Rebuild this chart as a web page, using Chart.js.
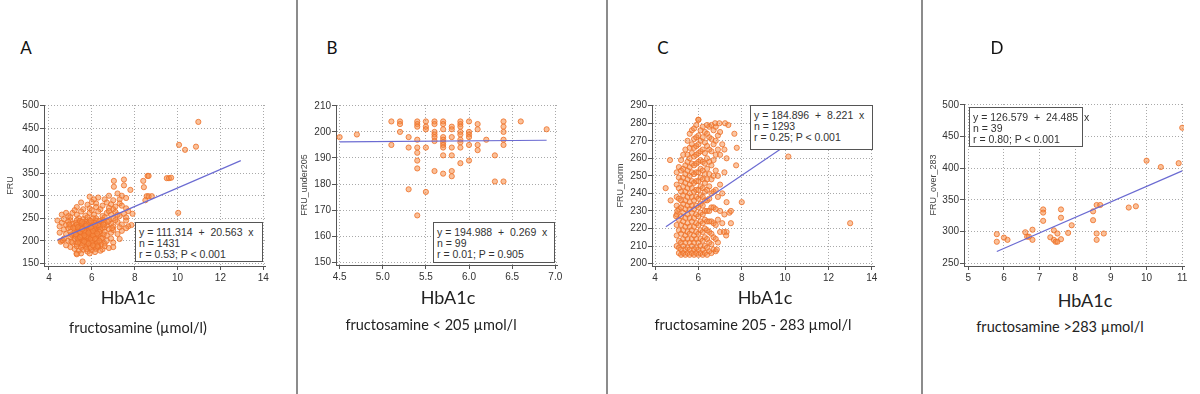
<!DOCTYPE html>
<html lang="en">
<head>
<meta charset="UTF-8">
<title>HbA1c vs fructosamine</title>
<style>
  body { margin: 0; background: #fff; font-family: Lato, sans-serif; }
  #page { position: relative; width: 1200px; height: 394px; overflow: hidden; }
  canvas { position: absolute; }
  .divider { position: absolute; top: 0; width: 2px; height: 394px; background: #8c8c8c; }
  .letter { position: absolute; font-size: 17px; color: #111; transform: translate(-50%, -50%); }
  .xlab { position: absolute; font-size: 18px; color: #222; transform: translate(-50%, -50%); white-space: nowrap; }
  .sub { position: absolute; font-size: 14.5px; color: #222; transform: translate(-50%, -50%); white-space: nowrap; }
  .stats { position: absolute; box-sizing: border-box; background: #fff; border: 1.5px solid #555;
           font: 10.5px Arial, sans-serif; color: #333; line-height: 11px; padding: 4px 0 0 3px; white-space: pre; }
</style>
<script src="https://cdn.jsdelivr.net/npm/chart.js"></script>
</head>
<body>
<div id="page"></div>
<script>
// ---- data ----
// A: all fructosamine values
const fruAll = [
  [10.07,413],[10.35,402],[10.86,409],[10.97,464],[9.5,339],[9.6,339],[9.7,340],[10.03,262],
  [8.6,344],[8.65,344],[8.4,333],[8.43,319],[8.56,299],[8.65,299],[8.8,299],[8.5,290],
  [7.03,333],[7.03,320],[7.5,336],[7.5,323],[7.8,313],[7.9,260],[7.85,235],[5.57,154],[5.29,172],
  [5.9,298],[6.3,296],[6.8,300],[7.2,305],[7.4,300],[6.6,292],[7.0,290],[7.6,295],[6.1,292],[7.3,292],
  [5.5,285],[5.8,280],[6.0,286],[6.2,283],[6.5,278],[6.7,285],[6.9,281],[7.1,276],[7.3,283],[7.6,272],
  [5.3,275],[5.9,272],[6.4,270],[7.0,270],[6.2,275],[5.6,270],[6.8,273],[7.4,278],[7.7,266],
  [4.6,258],[4.9,255],[5.1,262],[5.3,258],[5.5,265],[5.7,256],[5.9,262],[6.1,258],[6.3,265],[6.5,255],
  [6.7,262],[6.9,258],[7.1,264],[7.3,255],[7.5,260],[5.0,252],[5.4,250],[5.8,252],[6.2,250],[6.6,252],
  [7.0,250],[7.2,258],[5.2,268],[6.0,268],[6.8,266],[7.6,252],[4.8,262],
  [4.4,245],[4.6,240],[4.8,235],[5.0,245],[5.1,238],[5.2,232],[5.3,246],[5.4,240],[5.5,234],[5.6,248],
  [5.7,242],[5.8,236],[5.9,246],[6.0,240],[6.1,233],[6.2,245],[6.3,238],[6.4,232],[6.5,246],[6.6,240],
  [6.7,234],[6.8,244],[6.9,238],[7.0,232],[7.2,242],[7.4,236],[7.6,245],[7.7,232],[4.7,248],[4.5,232],
  [5.0,230],[5.4,231],[5.8,230],[6.2,231],[6.6,230],[7.1,246],[7.3,230],[4.9,242],[5.65,238],[6.05,250],
  [6.45,242],[5.25,240],
  [4.5,218],[4.6,200],[4.7,225],[4.8,215],[4.9,228],[5.0,220],[5.1,212],[5.2,226],[5.3,218],[5.4,210],
  [5.5,224],[5.6,216],[5.7,228],[5.8,220],[5.9,212],[6.0,226],[6.1,218],[6.2,210],[6.3,224],[6.4,216],
  [6.5,228],[6.6,220],[6.7,212],[6.8,226],[6.9,218],[7.0,224],[7.2,215],[7.4,222],[7.6,228],[5.35,225],
  [5.75,214],[6.15,222],[6.55,214],[5.05,214],[5.45,229],[5.85,226],[6.25,228],[4.55,198],[4.65,201],
  [4.7,205],[4.9,200],[5.0,208],[5.1,196],[5.2,204],[5.3,192],[5.4,200],[5.5,208],[5.6,194],[5.7,202],
  [5.8,190],[5.9,198],[6.0,206],[6.1,194],[6.2,202],[6.3,190],[6.4,198],[6.5,206],[6.6,194],[6.7,200],
  [6.9,205],[7.0,196],[7.3,204],[5.25,209],[5.65,205],[6.05,198],[6.45,192],[5.85,208],[6.25,196],[5.45,195],
  [5.0,186],[5.2,182],[5.3,188],[5.4,178],[5.5,185],[5.6,180],[5.7,187],[5.8,176],[5.9,184],[6.0,179],
  [6.1,188],[6.2,182],[6.3,186],[6.5,181],[6.6,188],[6.8,184],[5.5,172],[5.3,170],[5.9,172],[6.4,178],
  [7.0,186],[5.75,182],[6.15,175],[4.8,190],
  [5.3,215],[5.5,212],[5.7,208],[5.9,215],[6.1,210],[6.3,213],[5.4,222],[5.6,220],[5.8,224],[6.0,218],
  [6.2,222],[5.5,238],[5.7,232],[5.9,236],[6.1,240],[6.3,235],[5.3,236],[5.6,200],[5.8,204],[6.0,199],
  [6.2,206],[5.4,203],[5.9,225],[5.7,218],[6.1,228],[5.5,218],[5.8,210],[6.0,232],[5.6,228],[6.4,225],
  [5.2,220],[5.35,205],[5.95,205],[5.65,222],[6.35,220],[5.85,240],[6.15,236],[5.45,244],[6.05,212],[5.75,196],
  [5.55,190],[6.25,188],[5.95,185],[6.45,205],[5.15,228],[6.55,236],[6.75,242],[6.95,228],[4.95,236],[5.05,198],
  [5.25,214],[5.45,220],[5.65,212],[5.85,218],[6.05,222],[6.25,216],[5.35,230],[5.55,226],[5.75,234],[5.95,230],
  [6.15,204],[5.45,208],[5.65,198],[5.85,194],[6.05,190],[5.35,196],[6.35,200],[5.55,242],[5.95,244],[6.35,244]
];

// B: fructosamine < 205
const fruUnder = [
  [4.5,198],[4.7,199],[5.1,204],[5.1,195],[5.2,204],[5.2,203],[5.2,200],[5.3,198],[5.3,194],[5.3,178],
  [5.4,204],[5.4,203],[5.4,202],[5.4,197],[5.4,194],[5.4,192],[5.4,189],[5.4,186],[5.4,168],
  [5.5,204],[5.5,202],[5.5,201],[5.5,194],[5.5,177],
  [5.6,204],[5.6,203],[5.6,200],[5.6,199],[5.6,198],[5.6,196.5],[5.6,185],
  [5.7,204],[5.7,203],[5.7,201],[5.7,198],[5.7,197],[5.7,196],[5.7,195],[5.7,194],[5.7,191],[5.7,184],
  [5.8,202],[5.8,201],[5.8,198],[5.8,194],[5.8,191],[5.8,185],[5.8,183],
  [5.9,204],[5.9,203],[5.9,202],[5.9,200],[5.9,199],[5.9,197],[5.9,196],[5.9,194],[5.9,188],
  [6.0,204],[6.0,200],[6.0,199],[6.0,198],[6.0,195],[6.0,189],
  [6.1,203],[6.1,201],[6.1,195],[6.1,193],[6.2,197],[6.3,191],[6.3,181],
  [6.4,204],[6.4,202],[6.4,200],[6.4,197],[6.4,195],[6.4,181],[6.6,204],[6.9,201]
];

// C: fructosamine 205 - 283, HbA1c column -> FRU values
const fruNormCols = [
  [5.0, [210,216,222,228,233,238,245,252]],
  [5.1, [206,209,213,219,225,231,237,243,249,255]],
  [5.2, [205,208,212,217,222,227,232,236,241,247,253,259]],
  [5.3, [206,210,214,219,224,229,234,239,244,249,254,262]],
  [5.4, [205,208,212,216,221,226,231,236,241,246,251,256,265]],
  [5.5, [206,209,214,218,223,228,233,238,243,248,253,258,262,270]],
  [5.6, [205,208,212,217,221,226,231,235,240,245,250,255,260,266,274]],
  [5.7, [206,210,214,219,224,229,233,238,243,247,252,257,263,268,276]],
  [5.8, [205,208,212,216,221,226,231,236,241,246,251,256,261,266,271,277]],
  [5.9, [206,209,214,218,223,228,233,238,242,247,252,257,262,267,272,279]],
  [6.0, [205,208,212,217,222,227,232,237,242,247,252,258,263,268,273,282]],
  [6.1, [206,210,214,219,224,229,234,239,244,249,254,259,264,270,276]],
  [6.2, [205,208,213,218,223,228,233,238,243,248,253,258,265,272,278]],
  [6.3, [206,210,215,220,225,230,236,241,246,251,257,263,269,275]],
  [6.4, [205,209,214,219,224,230,236,242,248,254,260,267,274,279]],
  [6.5, [207,212,218,224,230,237,244,251,258,265,272,278]],
  [6.6, [206,211,217,224,232,240,248,256,264,271,279]],
  [6.7, [208,215,223,232,241,250,259,268,276]],
  [6.8, [207,214,222,231,242,253,262,270,278]],
  [6.9, [212,225,238,250,265,273]],
  [7.0, [218,230,245,262,275]],
  [7.1, [223,240,268]],
  [7.2, [228,252,265]],
  [7.3, [218,235,260]]
];
const fruNormExtra = [
  [4.49,243],[4.72,236],[4.69,259],[5.03,230],[4.97,227],[6.0,282],[6.77,280],[6.97,280],[7.23,280],
  [7.38,279],[7.66,274],[7.77,266],[7.74,256],[8.0,235],[7.5,223],[7.43,229],[7.18,218],[7.28,216],
  [10.15,261],[13.0,223],[6.85,208],[7.5,230]
];

// D: fructosamine > 283
const fruOver = [
  [5.8,296],[5.8,284],[6.0,290.5],[6.1,287],[6.6,299],[6.65,292],[6.7,292],[6.8,303],[6.8,287],
  [7.1,335],[7.1,330],[7.1,317],[7.3,291],[7.4,287],[7.4,302],[7.45,284],[7.5,284],[7.5,297],
  [7.6,288],[7.6,335],[7.6,322],[7.8,298],[7.9,310],[8.5,318],[8.5,332],[8.6,342],[8.7,342],
  [8.6,297],[8.6,287],[8.8,297],[9.5,338],[9.7,340],[10.0,412],[10.4,402],[10.9,408],[11.0,464]
];

// regression line end points
const fitAll = [[4.4,202],[12.95,378]];
const fitUnder = [[4.5,196.2],[6.9,196.8]];
const fitNorm = [[4.5,221],[10.0,267]];
const fitOver = [[5.8,268.6],[11.0,395.9]];

// tick values
const ticksAllX = [4,6,8,10,12,14];
const ticksAllY = [150,200,250,300,350,400,450,500];
const ticksUnderX = [4.5,5.0,5.5,6.0,6.5,7.0];
const ticksUnderY = [150,160,170,180,190,200,210];
const ticksNormX = [4,6,8,10,12,14];
const ticksNormY = [200,210,220,230,240,250,260,270,280,290];
const ticksOverX = [5,6,7,8,9,10,11];
const ticksOverY = [250,300,350,400,450,500];

const yTitles = ['FRU','FRU_under205','FRU_norm','FRU_over_283'];
const letters = ['A','B','C','D'];
const subTitles = ['fructosamine (\u00b5mol/l)','fructosamine < 205 \u00b5mol/l','fructosamine 205 - 283 \u00b5mol/l','fructosamine >283 \u00b5mol/l'];
const statLines = [
  ['y = 111.314  +  20.563  x','n = 1431','r = 0.53; P < 0.001'],
  ['y = 194.988  +  0.269  x','n = 99','r = 0.01; P = 0.905'],
  ['y = 184.896  +  8.221  x','n = 1293','r = 0.25; P < 0.001'],
  ['y = 126.579  +  24.485  x','n = 39','r = 0.80; P < 0.001']
];

const fruNorm = fruNormCols.flatMap(([x, ys]) => ys.map(y => [x, y])).concat(fruNormExtra);

// ---- layout ----
const page = document.getElementById('page');
[296.5, 607, 922].forEach(x => {
  const d = document.createElement('div');
  d.className = 'divider';
  d.style.left = (x - 1) + 'px';
  page.appendChild(d);
});

const panels = [
  { pts: fruAll, fit: fitAll, tx: ticksAllX, ty: ticksAllY, xr: [3.77, 14.08], yr: [144, 501.5], dec: 0, fill: 0.55,
    area: {l: 44, t: 105, r: 265, b: 266}, titleX: 10, letter: [26, 47], xlab: [128, 297], sub: [138, 327],
    box: {l: 135, t: 222, w: 128, h: 40} },
  { pts: fruUnder, fit: fitUnder, tx: ticksUnderX, ty: ticksUnderY, xr: [4.458, 7.02], yr: [149, 210.3], dec: 1, fill: 0.55,
    area: {l: 336, t: 105, r: 557, b: 265}, titleX: 304, letter: [332, 47], xlab: [448, 297], sub: [431, 324],
    box: {l: 433, t: 222, w: 122, h: 41} },
  { pts: fruNorm, fit: fitNorm, tx: ticksNormX, ty: ticksNormY, xr: [3.86, 14.1], yr: [198.6, 290.4], dec: 0, fill: 0.5,
    area: {l: 652, t: 105, r: 874, b: 266}, titleX: 620, letter: [663, 47], xlab: [765, 297], sub: [753, 324],
    box: {l: 750, t: 105, w: 123, h: 45} },
  { pts: fruOver, fit: fitOver, tx: ticksOverX, ty: ticksOverY, xr: [4.88, 11.05], yr: [245.7, 501.5], dec: 0, fill: 0.55,
    area: {l: 964, t: 104, r: 1184, b: 266}, titleX: 933, letter: [997, 47], xlab: [1085, 300], sub: [1060, 326],
    box: {l: 969, t: 107, w: 114, h: 40} }
];

function addText(cls, txt, pos) {
  const d = document.createElement('div');
  d.className = cls;
  d.textContent = txt;
  d.style.left = pos[0] + 'px';
  d.style.top = pos[1] + 'px';
  page.appendChild(d);
}

panels.forEach((p, i) => {
  const padTop = 10, padRight = 12, xh = 22;
  const left = p.titleX - 5;
  const top = p.area.t - padTop;
  const yw = p.area.l - left;
  const cv = document.createElement('canvas');
  cv.width = p.area.r + padRight - left;
  cv.height = p.area.b + xh - top;
  cv.style.left = left + 'px';
  cv.style.top = top + 'px';
  page.appendChild(cv);

  const grid = { color: '#a9a9a9', lineWidth: 1, tickLength: 4, tickColor: '#555', tickWidth: 1 };
  const border = { color: '#555', width: 1, dash: [1, 2] };
  const tickFont = { family: 'Arial', size: 10 };

  new Chart(cv.getContext('2d'), {
    type: 'scatter',
    data: {
      datasets: [
        { data: p.fit.map(([x, y]) => ({x, y})), type: 'line', showLine: true, pointRadius: 0,
          borderColor: '#6b6bd2', borderWidth: 1.2, order: 0 },
        { data: p.pts.map(([x, y]) => ({x, y})), pointRadius: 2.6, borderWidth: 1,
          pointBackgroundColor: 'rgba(245,140,70,' + p.fill + ')', pointBorderColor: 'rgba(238,112,40,0.8)', order: 1 }
      ]
    },
    options: {
      responsive: false, animation: false, devicePixelRatio: 1,
      layout: { padding: { top: padTop, right: padRight, left: 0, bottom: 0 } },
      plugins: { legend: { display: false }, tooltip: { enabled: false } },
      scales: {
        x: {
          type: 'linear', min: p.xr[0], max: p.xr[1],
          afterBuildTicks: s => { s.ticks = p.tx.map(v => ({ value: v })); },
          afterFit: s => { s.height = xh; },
          ticks: { font: tickFont, color: '#333', padding: 2, maxRotation: 0, autoSkip: false,
                   callback: v => v.toFixed(p.dec) },
          grid: grid, border: border
        },
        y: {
          type: 'linear', min: p.yr[0], max: p.yr[1],
          afterBuildTicks: s => { s.ticks = p.ty.map(v => ({ value: v })); },
          afterFit: s => { s.width = yw; },
          ticks: { font: tickFont, color: '#333', padding: 1, autoSkip: false },
          title: { display: true, text: yTitles[i], font: { family: 'Arial', size: 9 }, color: '#444', padding: 0 },
          grid: grid, border: border
        }
      }
    }
  });

  const box = document.createElement('div');
  box.className = 'stats';
  box.textContent = statLines[i].join('\n');
  Object.assign(box.style, { left: p.box.l + 'px', top: p.box.t + 'px', width: p.box.w + 'px', height: p.box.h + 'px' });
  page.appendChild(box);

  addText('letter', letters[i], p.letter);
  addText('xlab', 'HbA1c', p.xlab);
  addText('sub', subTitles[i], p.sub);
});
</script>
</body>
</html>
